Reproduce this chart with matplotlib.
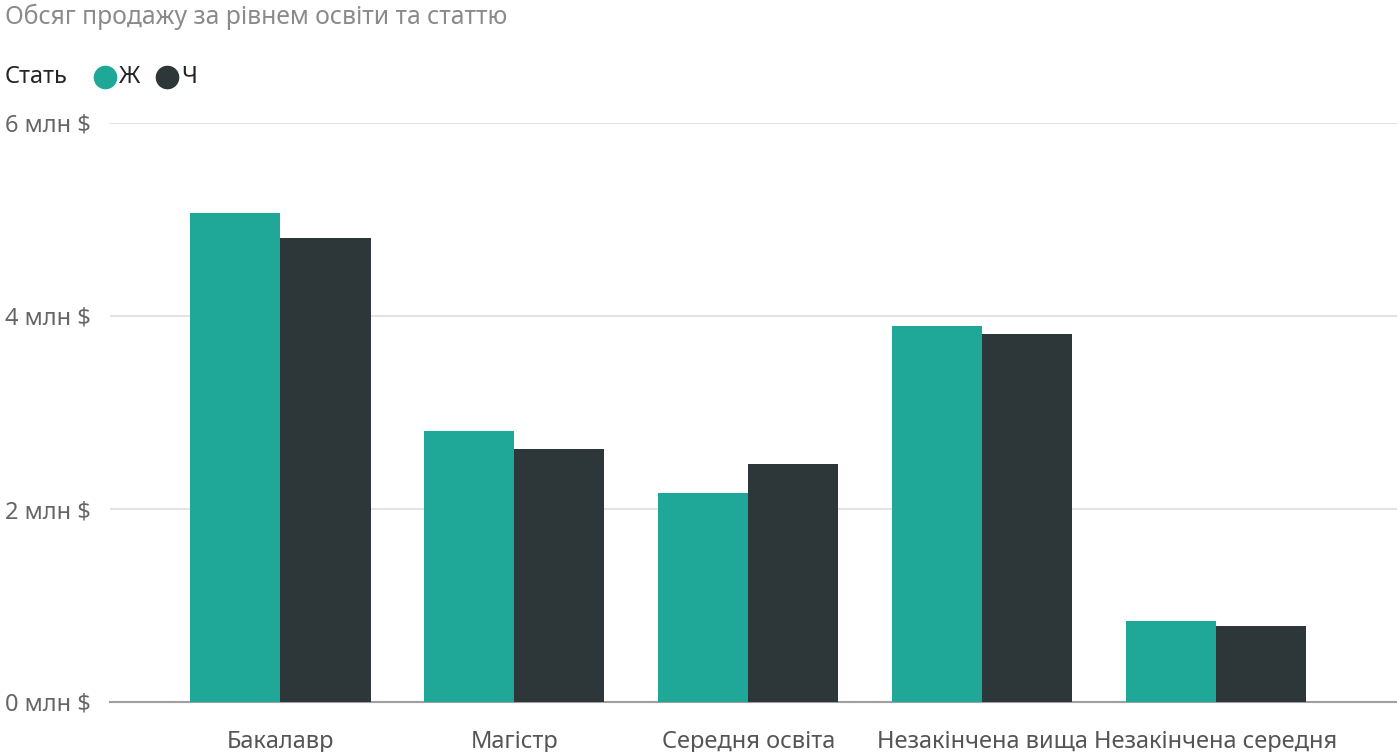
import matplotlib.pyplot as plt
import numpy as np
from matplotlib.lines import Line2D
from matplotlib.ticker import FuncFormatter

plt.rcParams['font.family'] = ['Noto Sans', 'DejaVu Sans']

# data (millions of $)
categories = ["Бакалавр", "Магістр", "Середня освіта", "Незакінчена вища", "Незакінчена середня"]
female = [5.07, 2.81, 2.17, 3.90, 0.84]
male = [4.81, 2.62, 2.47, 3.81, 0.79]
series_names = ["Ж", "Ч"]

TEAL = "#1FA898"
DARK = "#2D3739"

W, H = 1397, 752
fig = plt.figure(figsize=(W / 100, H / 100), dpi=100)
ax = fig.add_axes([110 / W, 50 / H, (W - 110) / W, (702 - 123) / H])

x = np.arange(len(categories))
bw = 0.385
ax.bar(x - bw / 2, female, width=bw, color=TEAL, zorder=3)
ax.bar(x + bw / 2, male, width=bw, color=DARK, zorder=3)

ax.set_xlim(-0.729, 4.774)
ax.set_ylim(0, 6)
ax.set_yticks([0, 2, 4, 6])
ax.yaxis.set_major_formatter(FuncFormatter(lambda v, p: f"{v:.0f} млн $"))
ax.set_xticks(x)
ax.set_xticklabels(categories)

ax.grid(axis="y", color="#E3E3E3", linewidth=1.5, zorder=0)
for s in ["top", "right", "left"]:
    ax.spines[s].set_visible(False)
ax.spines["bottom"].set_color("#A0A0A0")
ax.spines["bottom"].set_linewidth(1.5)
ax.tick_params(axis="y", length=0, pad=14, labelsize=17, labelcolor="#666666")
ax.tick_params(axis="x", length=0, pad=20, labelsize=17, labelcolor="#555555")

# title
fig.text(5 / W, 1 - 17 / H, "Обсяг продажу за рівнем освіти та статтю",
         fontsize=17.8, color="#8A8A8A", va="center", ha="left")

# legend drawn by hand: label, then a dot and name per series
ly = 1 - 77 / H
fig.text(5 / W, ly, "Стать", fontsize=17, color="#252423", va="center", ha="left")
for name, col, cx in zip(series_names, (TEAL, DARK), (105, 167)):
    fig.add_artist(Line2D([cx / W], [ly], marker="o", markersize=16, linestyle="",
                          color=col, transform=fig.transFigure))
    fig.text((cx + 14) / W, ly, name, fontsize=17, color="#252423", va="center", ha="left")

fig.savefig("out.png", dpi=100)
